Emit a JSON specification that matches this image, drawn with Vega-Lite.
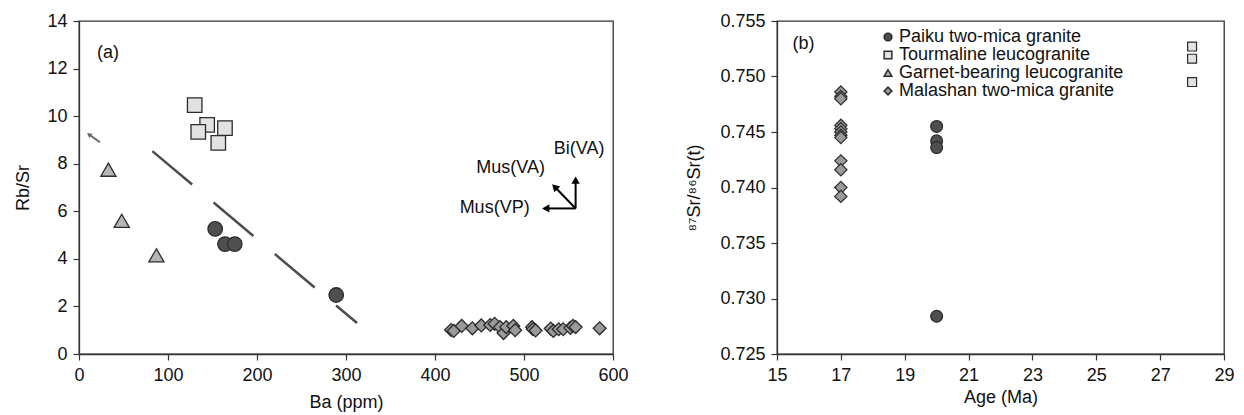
{
  "$schema": "https://vega.github.io/schema/vega-lite/v6.json",
  "padding": {"left": 14, "top": 11, "right": 1, "bottom": 0},
  "background": "white",
  "config": {
    "font": "Liberation Sans",
    "view": {"stroke": "#333333", "strokeWidth": 1.3},
    "axis": {
      "grid": true,
      "gridColor": "#333333",
      "gridWidth": 1.2,
      "gridOpacity": 1,
      "labelFont": "Liberation Sans",
      "titleFont": "Liberation Sans",
      "labelFontSize": 18,
      "titleFontSize": 18,
      "titleFontWeight": "normal",
      "labelColor": "#111111",
      "titleColor": "#111111",
      "domainColor": "#333333",
      "domainWidth": 1.3,
      "tickColor": "#333333",
      "tickWidth": 1.2,
      "tickSize": 6,
      "labelPadding": 6,
      "labelOverlap": false,
      "labelFlush": false
    },
    "legend": {
      "orient": "none", "legendX": 800, "legendY": 7, "labelFont": "Liberation Sans", "labelFontSize": 18,
      "labelColor": "#111111", "labelLimit": 400, "symbolSize": 60, "rowPadding": 0, "labelOffset": 2, "padding": 0
    },
    "text": {"font": "Liberation Sans", "fontSize": 18, "fill": "#111111"}
  },
  "datasets": {
    "a": [
      {"group": "Tourmaline leucogranite", "Ba": 130, "RbSr": 10.46},
      {"group": "Tourmaline leucogranite", "Ba": 144, "RbSr": 9.63},
      {"group": "Tourmaline leucogranite", "Ba": 134, "RbSr": 9.34},
      {"group": "Tourmaline leucogranite", "Ba": 164, "RbSr": 9.5},
      {"group": "Tourmaline leucogranite", "Ba": 156.5, "RbSr": 8.88},
      {"group": "Paiku two-mica granite", "Ba": 153, "RbSr": 5.26},
      {"group": "Paiku two-mica granite", "Ba": 164, "RbSr": 4.62},
      {"group": "Paiku two-mica granite", "Ba": 175, "RbSr": 4.62},
      {"group": "Paiku two-mica granite", "Ba": 289, "RbSr": 2.48},
      {"group": "Garnet-bearing leucogranite", "Ba": 33, "RbSr": 7.75},
      {"group": "Garnet-bearing leucogranite", "Ba": 48, "RbSr": 5.6},
      {"group": "Garnet-bearing leucogranite", "Ba": 87, "RbSr": 4.15},
      {"group": "Malashan two-mica granite", "Ba": 418, "RbSr": 1.01},
      {"group": "Malashan two-mica granite", "Ba": 421, "RbSr": 0.97},
      {"group": "Malashan two-mica granite", "Ba": 430, "RbSr": 1.18},
      {"group": "Malashan two-mica granite", "Ba": 442, "RbSr": 1.08},
      {"group": "Malashan two-mica granite", "Ba": 452, "RbSr": 1.2},
      {"group": "Malashan two-mica granite", "Ba": 462, "RbSr": 1.22},
      {"group": "Malashan two-mica granite", "Ba": 467, "RbSr": 1.27},
      {"group": "Malashan two-mica granite", "Ba": 473, "RbSr": 1.13},
      {"group": "Malashan two-mica granite", "Ba": 477, "RbSr": 0.88},
      {"group": "Malashan two-mica granite", "Ba": 480, "RbSr": 1.13},
      {"group": "Malashan two-mica granite", "Ba": 488, "RbSr": 1.18},
      {"group": "Malashan two-mica granite", "Ba": 490, "RbSr": 1.0},
      {"group": "Malashan two-mica granite", "Ba": 509, "RbSr": 1.13},
      {"group": "Malashan two-mica granite", "Ba": 510, "RbSr": 1.04},
      {"group": "Malashan two-mica granite", "Ba": 513, "RbSr": 0.99},
      {"group": "Malashan two-mica granite", "Ba": 530, "RbSr": 1.07},
      {"group": "Malashan two-mica granite", "Ba": 533, "RbSr": 0.97},
      {"group": "Malashan two-mica granite", "Ba": 539, "RbSr": 1.04},
      {"group": "Malashan two-mica granite", "Ba": 544, "RbSr": 1.04},
      {"group": "Malashan two-mica granite", "Ba": 552, "RbSr": 1.1},
      {"group": "Malashan two-mica granite", "Ba": 555, "RbSr": 1.18},
      {"group": "Malashan two-mica granite", "Ba": 558, "RbSr": 1.13},
      {"group": "Malashan two-mica granite", "Ba": 585, "RbSr": 1.08}
    ],
    "b": [
      {"group": "Malashan two-mica granite", "Age": 17, "Sr": 0.7486},
      {"group": "Malashan two-mica granite", "Age": 17, "Sr": 0.7482},
      {"group": "Malashan two-mica granite", "Age": 17, "Sr": 0.748},
      {"group": "Malashan two-mica granite", "Age": 17, "Sr": 0.7456},
      {"group": "Malashan two-mica granite", "Age": 17, "Sr": 0.7453},
      {"group": "Malashan two-mica granite", "Age": 17, "Sr": 0.745},
      {"group": "Malashan two-mica granite", "Age": 17, "Sr": 0.7447},
      {"group": "Malashan two-mica granite", "Age": 17, "Sr": 0.7445},
      {"group": "Malashan two-mica granite", "Age": 17, "Sr": 0.7424},
      {"group": "Malashan two-mica granite", "Age": 17, "Sr": 0.7416},
      {"group": "Malashan two-mica granite", "Age": 17, "Sr": 0.74},
      {"group": "Malashan two-mica granite", "Age": 17, "Sr": 0.7392},
      {"group": "Paiku two-mica granite", "Age": 20, "Sr": 0.7455},
      {"group": "Paiku two-mica granite", "Age": 20, "Sr": 0.7442},
      {"group": "Paiku two-mica granite", "Age": 20, "Sr": 0.7436},
      {"group": "Paiku two-mica granite", "Age": 20, "Sr": 0.7284},
      {"group": "Tourmaline leucogranite", "Age": 28, "Sr": 0.7527},
      {"group": "Tourmaline leucogranite", "Age": 28, "Sr": 0.7516},
      {"group": "Tourmaline leucogranite", "Age": 28, "Sr": 0.7495}
    ],
    "trend": [
      {"Ba": 82.4, "RbSr": 8.53},
      {"Ba": 312.4, "RbSr": 1.3}
    ],
    "grayArrow": [
      {"Ba": 23.6, "RbSr": 8.9, "Ba2": 11.2, "RbSr2": 9.23}
    ],
    "grayHead": [
      {"Ba": 11.2, "RbSr": 9.23}
    ],
    "arrows": [
      {"dir": "up", "Ba": 558, "RbSr": 6.12, "Ba2": 558, "RbSr2": 7.31},
      {"dir": "left", "Ba": 558, "RbSr": 6.12, "Ba2": 524.4, "RbSr2": 6.12},
      {"dir": "diag", "Ba": 558, "RbSr": 6.12, "Ba2": 534.5, "RbSr2": 7.03}
    ],
    "heads": [
      {"dir": "up", "Ba": 558, "RbSr": 7.31},
      {"dir": "left", "Ba": 524.4, "RbSr": 6.12},
      {"dir": "diag", "Ba": 534.5, "RbSr": 7.03}
    ],
    "labelsA": [
      {"label": "Bi(VA)", "Ba": 562, "RbSr": 8.62},
      {"label": "Mus(VA)", "Ba": 485, "RbSr": 7.8},
      {"label": "Mus(VP)", "Ba": 467, "RbSr": 6.15},
      {"label": "(a)", "Ba": 32.6, "RbSr": 12.65}
    ],
    "labelsB": [
      {"label": "(b)", "Age": 15.83, "Sr": 0.7529}
    ]
  },
  "bounds": "flush",
  "spacing": 164,
  "hconcat": [
    {
      "width": 534,
      "height": 333,
      "resolve": {"axis": {"x": "independent", "y": "independent"}},
      "layer": [
        {
          "data": {"name": "trend"},
          "mark": {"type": "line", "stroke": "#4d4d4d", "strokeWidth": 2.5, "strokeDash": [52, 28]},
          "encoding": {
            "x": {"field": "Ba", "type": "quantitative", "scale": {"domain": [0, 600], "nice": false}, "axis": null},
            "y": {"field": "RbSr", "type": "quantitative", "scale": {"domain": [0, 14], "nice": false}, "axis": null}
          }
        },
        {
          "data": {"name": "grayArrow"},
          "mark": {"type": "rule", "stroke": "#666666", "strokeWidth": 2},
          "encoding": {
            "x": {"field": "Ba", "type": "quantitative", "axis": null},
            "y": {"field": "RbSr", "type": "quantitative", "axis": null},
            "x2": {"field": "Ba2"},
            "y2": {"field": "RbSr2"}
          }
        },
        {
          "data": {"name": "grayHead"},
          "mark": {"type": "point", "shape": "triangle-up", "angle": -53, "filled": true, "fill": "#666666", "size": 30, "opacity": 1},
          "encoding": {
            "x": {"field": "Ba", "type": "quantitative", "axis": null},
            "y": {"field": "RbSr", "type": "quantitative", "axis": null}
          }
        },
        {
          "data": {"name": "arrows"},
          "mark": {"type": "rule", "stroke": "#000000", "strokeWidth": 2},
          "encoding": {
            "x": {"field": "Ba", "type": "quantitative", "axis": null},
            "y": {"field": "RbSr", "type": "quantitative", "axis": null},
            "x2": {"field": "Ba2"},
            "y2": {"field": "RbSr2"}
          }
        },
        {
          "data": {"name": "heads"},
          "transform": [{"filter": "datum.dir == 'up'"}],
          "mark": {"type": "point", "shape": "triangle-up", "filled": true, "fill": "#000000", "size": 70, "opacity": 1},
          "encoding": {
            "x": {"field": "Ba", "type": "quantitative", "axis": null},
            "y": {"field": "RbSr", "type": "quantitative", "axis": null}
          }
        },
        {
          "data": {"name": "heads"},
          "transform": [{"filter": "datum.dir == 'left'"}],
          "mark": {"type": "point", "shape": "triangle-left", "filled": true, "fill": "#000000", "size": 70, "opacity": 1},
          "encoding": {
            "x": {"field": "Ba", "type": "quantitative", "axis": null},
            "y": {"field": "RbSr", "type": "quantitative", "axis": null}
          }
        },
        {
          "data": {"name": "heads"},
          "transform": [{"filter": "datum.dir == 'diag'"}],
          "mark": {"type": "point", "shape": "triangle-up", "angle": -45, "filled": true, "fill": "#000000", "size": 70, "opacity": 1},
          "encoding": {
            "x": {"field": "Ba", "type": "quantitative", "axis": null},
            "y": {"field": "RbSr", "type": "quantitative", "axis": null}
          }
        },
        {
          "data": {"name": "labelsA"},
          "mark": {"type": "text", "align": "center", "baseline": "middle", "fontSize": 18},
          "encoding": {
            "x": {"field": "Ba", "type": "quantitative", "axis": null},
            "y": {"field": "RbSr", "type": "quantitative", "axis": null},
            "text": {"field": "label"}
          }
        },
        {
          "data": {"name": "a"},
          "transform": [{"filter": "datum.group == 'Malashan two-mica granite'"}],
          "mark": {"type": "point", "filled": true, "stroke": "#2b2b2b", "strokeWidth": 1.3, "opacity": 1, "size": 165},
          "encoding": {
            "x": {"field": "Ba", "type": "quantitative", "scale": {"domain": [0, 600], "nice": false},
              "axis": {"orient": "bottom", "values": [0,20,40,60,80,100,120,140,160,180,200,220,240,260,280,300,320,340,360,380,400,420,440,460,480,500,520,540,560,580,600],
                "format": ".0f",
                "labelExpr": "datum.value % 100 === 0 ? datum.label : ''",
                "tickOpacity": {"condition": {"test": "datum.value % 100 === 0", "value": 1}, "value": 0},
                "gridDash": [0, 328, 5, 20],
                "title": "Ba (ppm)", "titlePadding": 9}},
            "y": {"field": "RbSr", "type": "quantitative", "scale": {"domain": [0, 14], "nice": false},
              "axis": {"orient": "left", "values": [0,0.5,1,1.5,2,2.5,3,3.5,4,4.5,5,5.5,6,6.5,7,7.5,8,8.5,9,9.5,10,10.5,11,11.5,12,12.5,13,13.5,14],
                "format": ".0f",
                "labelExpr": "datum.value % 2 === 0 ? datum.label : ''",
                "tickOpacity": {"condition": {"test": "datum.value % 2 === 0", "value": 1}, "value": 0},
                "gridDash": [5, 2000],
                "title": "Rb/Sr", "titlePadding": 14}},
            "shape": {"field": "group", "type": "nominal",
              "scale": {"domain": ["Paiku two-mica granite", "Tourmaline leucogranite", "Garnet-bearing leucogranite", "Malashan two-mica granite"], "range": ["circle", "square", "triangle-up", "diamond"]},
              "legend": {"title": null, "encode": {"symbols": {"update": {"stroke": {"value": "#2b2b2b"}, "strokeWidth": {"value": 1}}}}}},
            "fill": {"field": "group", "type": "nominal",
              "scale": {"domain": ["Paiku two-mica granite", "Tourmaline leucogranite", "Garnet-bearing leucogranite", "Malashan two-mica granite"], "range": ["#4f4f4f", "#e2e2e2", "#b5b5b5", "#9a9a9a"]},
              "legend": {"title": null, "encode": {"symbols": {"update": {"stroke": {"value": "#2b2b2b"}, "strokeWidth": {"value": 1}}}}}}
          }
        },
        {
          "data": {"name": "a"},
          "transform": [{"filter": "datum.group != 'Malashan two-mica granite' && datum.group != 'Garnet-bearing leucogranite'"}],
          "mark": {"type": "point", "filled": true, "stroke": "#2b2b2b", "strokeWidth": 1.3, "opacity": 1, "size": 210},
          "encoding": {
            "x": {"field": "Ba", "type": "quantitative", "axis": null},
            "y": {"field": "RbSr", "type": "quantitative", "axis": null},
            "shape": {"field": "group", "type": "nominal", "legend": {"title": null, "encode": {"symbols": {"update": {"stroke": {"value": "#2b2b2b"}, "strokeWidth": {"value": 1}}}}}},
            "fill": {"field": "group", "type": "nominal", "legend": {"title": null, "encode": {"symbols": {"update": {"stroke": {"value": "#2b2b2b"}, "strokeWidth": {"value": 1}}}}}}
          }
        },
        {
          "data": {"name": "a"},
          "transform": [{"filter": "datum.group == 'Garnet-bearing leucogranite'"}],
          "mark": {"type": "point", "filled": true, "stroke": "#2b2b2b", "strokeWidth": 1.3, "opacity": 1, "size": 230},
          "encoding": {
            "x": {"field": "Ba", "type": "quantitative", "axis": null},
            "y": {"field": "RbSr", "type": "quantitative", "axis": null},
            "shape": {"field": "group", "type": "nominal", "legend": {"title": null, "encode": {"symbols": {"update": {"stroke": {"value": "#2b2b2b"}, "strokeWidth": {"value": 1}}}}}},
            "fill": {"field": "group", "type": "nominal", "legend": {"title": null, "encode": {"symbols": {"update": {"stroke": {"value": "#2b2b2b"}, "strokeWidth": {"value": 1}}}}}}
          }
        }
      ]
    },
    {
      "width": 447,
      "height": 333,
      "resolve": {"axis": {"x": "independent", "y": "independent"}},
      "layer": [
        {
          "data": {"name": "labelsB"},
          "mark": {"type": "text", "align": "center", "baseline": "middle", "fontSize": 18},
          "encoding": {
            "x": {"field": "Age", "type": "quantitative", "scale": {"domain": [15, 29], "nice": false, "zero": false}, "axis": null},
            "y": {"field": "Sr", "type": "quantitative", "scale": {"domain": [0.725, 0.755], "nice": false, "zero": false}, "axis": null},
            "text": {"field": "label"}
          }
        },
        {
          "data": {"name": "b"},
          "transform": [{"filter": "datum.group == 'Malashan two-mica granite'"}],
          "mark": {"type": "point", "filled": true, "stroke": "#2b2b2b", "strokeWidth": 1.2, "opacity": 1, "size": 150},
          "encoding": {
            "x": {"field": "Age", "type": "quantitative", "scale": {"domain": [15, 29], "nice": false, "zero": false},
              "axis": {"orient": "bottom", "values": [15,15.4,15.8,16.2,16.6,17,17.4,17.8,18.2,18.6,19,19.4,19.8,20.2,20.6,21,21.4,21.8,22.2,22.6,23,23.4,23.8,24.2,24.6,25,25.4,25.8,26.2,26.6,27,27.4,27.8,28.2,28.6,29],
                "format": ".0f",
                "labelExpr": "indexof([15,17,19,21,23,25,27,29], datum.value) >= 0 ? datum.label : ''",
                "tickOpacity": {"condition": {"test": "indexof([15,17,19,21,23,25,27,29], datum.value) >= 0", "value": 1}, "value": 0},
                "gridDash": [0, 328, 5, 20],
                "title": "Age (Ma)", "titlePadding": 4}},
            "y": {"field": "Sr", "type": "quantitative", "scale": {"domain": [0.725, 0.755], "nice": false, "zero": false},
              "axis": {"orient": "left", "values": [0.725,0.726,0.727,0.728,0.729,0.73,0.731,0.732,0.733,0.734,0.735,0.736,0.737,0.738,0.739,0.74,0.741,0.742,0.743,0.744,0.745,0.746,0.747,0.748,0.749,0.75,0.751,0.752,0.753,0.754,0.755],
                "format": ".3f",
                "labelExpr": "indexof([0.725,0.73,0.735,0.74,0.745,0.75,0.755], datum.value) >= 0 ? datum.label : ''",
                "tickOpacity": {"condition": {"test": "indexof([0.725,0.73,0.735,0.74,0.745,0.75,0.755], datum.value) >= 0", "value": 1}, "value": 0},
                "gridDash": [5, 2000],
                "title": "⁸⁷Sr/⁸⁶Sr(t)", "titlePadding": 16}},
            "shape": {"field": "group", "type": "nominal", "legend": {"title": null, "encode": {"symbols": {"update": {"stroke": {"value": "#2b2b2b"}, "strokeWidth": {"value": 1}}}}}},
            "fill": {"field": "group", "type": "nominal", "legend": {"title": null, "encode": {"symbols": {"update": {"stroke": {"value": "#2b2b2b"}, "strokeWidth": {"value": 1}}}}}}
          }
        },
        {
          "data": {"name": "b"},
          "transform": [{"filter": "datum.group == 'Paiku two-mica granite'"}],
          "mark": {"type": "point", "filled": true, "stroke": "#2b2b2b", "strokeWidth": 1.2, "opacity": 1, "size": 140},
          "encoding": {
            "x": {"field": "Age", "type": "quantitative", "axis": null},
            "y": {"field": "Sr", "type": "quantitative", "axis": null},
            "shape": {"field": "group", "type": "nominal", "legend": {"title": null, "encode": {"symbols": {"update": {"stroke": {"value": "#2b2b2b"}, "strokeWidth": {"value": 1}}}}}},
            "fill": {"field": "group", "type": "nominal", "legend": {"title": null, "encode": {"symbols": {"update": {"stroke": {"value": "#2b2b2b"}, "strokeWidth": {"value": 1}}}}}}
          }
        },
        {
          "data": {"name": "b"},
          "transform": [{"filter": "datum.group == 'Tourmaline leucogranite'"}],
          "mark": {"type": "point", "filled": true, "stroke": "#2b2b2b", "strokeWidth": 1.2, "opacity": 1, "size": 80},
          "encoding": {
            "x": {"field": "Age", "type": "quantitative", "axis": null},
            "y": {"field": "Sr", "type": "quantitative", "axis": null},
            "shape": {"field": "group", "type": "nominal", "legend": {"title": null, "encode": {"symbols": {"update": {"stroke": {"value": "#2b2b2b"}, "strokeWidth": {"value": 1}}}}}},
            "fill": {"field": "group", "type": "nominal", "legend": {"title": null, "encode": {"symbols": {"update": {"stroke": {"value": "#2b2b2b"}, "strokeWidth": {"value": 1}}}}}}
          }
        }
      ]
    }
  ]
}
